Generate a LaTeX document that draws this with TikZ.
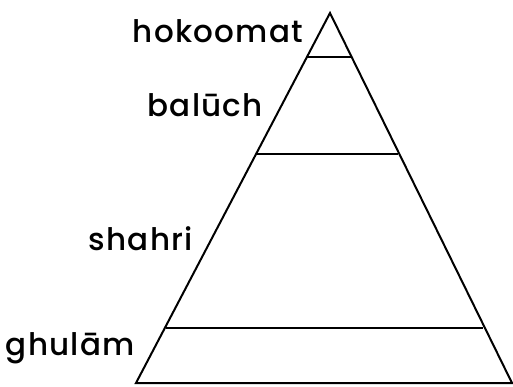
\documentclass[tikz,border=0pt]{standalone}
\usepackage{fontspec}
\setmainfont{Poppins}[UprightFont={* Medium}]
\begin{document}
\begin{tikzpicture}[x=1pt,y=-1pt,
  edge/.style={line width=2pt,line join=miter},
  lbl/.style={anchor=base east,inner sep=0pt,font=\fontsize{31}{34}\selectfont\addfontfeatures{LetterSpace=4}}]
\useasboundingbox (0,0) rectangle (513,387);
\coordinate (apex) at (330,13);
\coordinate (bl) at (136,383);
\coordinate (br) at (512,383);
\draw[edge] (bl) -- (apex) -- (br) -- cycle;
\coordinate (l1) at (307,57);
\coordinate (r1) at (351,57);
\coordinate (l2) at (256,154);
\coordinate (r2) at (398,154);
\coordinate (l3) at (166,328);
\coordinate (r3) at (483,328);
\draw[edge] (l1) -- (r1);
\draw[edge] (l2) -- (r2);
\draw[edge] (l3) -- (r3);
\node[lbl] (hok) at (303,43) {hokoomat};
\node[lbl] (bal) at (263,117) {balūch};
\node[lbl] (sha) at (193,250) {shahri};
\node[lbl] (ghu) at (135,355) {ghulām};
\end{tikzpicture}
\end{document}
